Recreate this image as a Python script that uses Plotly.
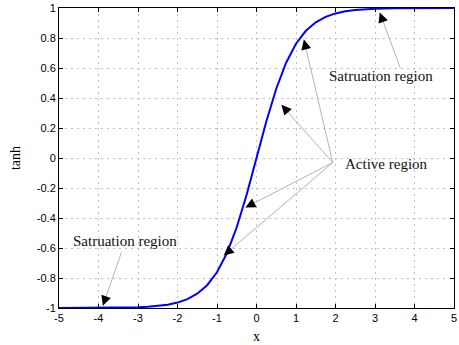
import plotly.graph_objects as go

# ---- data ----
x_vals = [-5, -4.5, -4, -3.5, -3, -2.75, -2.5, -2.25, -2, -1.75, -1.5, -1.25, -1,
          -0.75, -0.5, -0.25, 0, 0.25, 0.5, 0.75, 1, 1.25, 1.5, 1.75, 2, 2.25,
          2.5, 2.75, 3, 3.5, 4, 4.5, 5]
tanh_vals = [-0.9999, -0.9998, -0.9993, -0.9982, -0.9951, -0.992, -0.9866, -0.978,
             -0.964, -0.941, -0.905, -0.848, -0.762, -0.635, -0.462, -0.245, 0.0,
             0.245, 0.462, 0.635, 0.762, 0.848, 0.905, 0.941, 0.964, 0.978, 0.9866,
             0.992, 0.9951, 0.9982, 0.9993, 0.9998, 0.9999]

x_ticks = [-5, -4, -3, -2, -1, 0, 1, 2, 3, 4, 5]
x_ticktext = ["-5", "-4", "-3", "-2", "-1", "0", "1", "2", "3", "4", "5"]
y_ticks = [-1, -0.8, -0.6, -0.4, -0.2, 0, 0.2, 0.4, 0.6, 0.8, 1]
y_ticktext = ["-1", "-0.8", "-0.6", "-0.4", "-0.2", "0", "0.2", "0.4", "0.6", "0.8", "1"]

# annotations: (label, label_x, label_y, [(tail_x, tail_y, head_x, head_y), ...])
labels = [
    ("Satruation region", 3.16, 0.55, [(3.64, 0.60, 3.12, 0.97)]),
    ("Active region", 3.3, -0.04, [(1.93, -0.03, 1.2, 0.79),
                                   (1.93, -0.03, 0.63, 0.355),
                                   (1.93, -0.03, -0.28, -0.33),
                                   (1.93, -0.03, -0.83, -0.65)]),
    ("Satruation region", -3.32, -0.55, [(-3.42, -0.63, -3.89, -0.985)]),
]

W, H = 459, 345
ml, mr, mt, mb = 59, 2, 7, 37
pw, ph = W - ml - mr, H - mt - mb
sx = pw / 10.0
sy = ph / 2.0

fig = go.Figure()
fig.add_trace(go.Scatter(x=x_vals, y=tanh_vals, mode="lines",
                         line=dict(color="#0000ff", width=2), showlegend=False))

annotations = []
shapes = []
for text, lx, ly, arrows in labels:
    annotations.append(dict(x=lx, y=ly, xref="x", yref="y", text=text, showarrow=False,
                            font=dict(family="Liberation Serif", size=15, color="#111111")))
    for tx, ty, hx, hy in arrows:
        shapes.append(dict(type="line", xref="x", yref="y", x0=tx, y0=ty, x1=hx, y1=hy,
                           line=dict(color="#b4b4b4", width=1)))
        dxp = (tx - hx) * sx
        dyp = (ty - hy) * sy
        L = (dxp ** 2 + dyp ** 2) ** 0.5
        f = 11.0 / L
        annotations.append(dict(x=hx, y=hy, xref="x", yref="y",
                                ax=hx + (tx - hx) * f, ay=hy + (ty - hy) * f,
                                axref="x", ayref="y", text="", showarrow=True,
                                arrowhead=2, arrowsize=2.0, arrowwidth=1,
                                arrowcolor="black", standoff=0))

axis_common = dict(showline=True, linecolor="black", linewidth=1, mirror="ticks",
                   ticks="inside", ticklen=4, tickcolor="black",
                   showgrid=True, gridcolor="#c0c0c0", griddash="2px,4px", gridwidth=1,
                   zeroline=False, ticklabeloverflow="allow",
                   tickfont=dict(family="Liberation Sans", size=11, color="black"))

fig.update_layout(
    width=W, height=H,
    margin=dict(l=ml, r=mr, t=mt, b=mb),
    paper_bgcolor="white", plot_bgcolor="white",
    shapes=shapes, annotations=annotations,
    xaxis=dict(range=[-5, 5], tickvals=x_ticks, ticktext=x_ticktext,
               title=dict(text="x", standoff=7,
                          font=dict(family="Liberation Serif", size=14, color="black")),
               **axis_common),
    yaxis=dict(range=[-1, 1], tickvals=y_ticks, ticktext=y_ticktext,
               title=dict(text="tanh", standoff=12,
                          font=dict(family="Liberation Serif", size=14, color="black")),
               **axis_common),
)

fig.write_html("out.html")
